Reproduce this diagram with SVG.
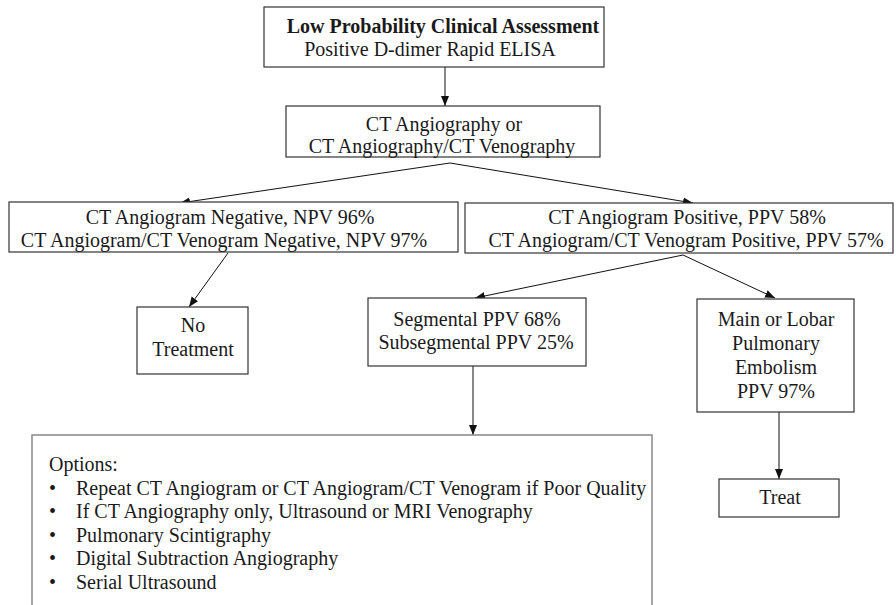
<svg xmlns="http://www.w3.org/2000/svg" width="896" height="605" viewBox="0 0 896 605">
<defs>
<marker id="ah" markerWidth="10" markerHeight="10" refX="10" refY="5" orient="auto" markerUnits="userSpaceOnUse">
<path d="M0,1 L10,5 L0,9 Z" fill="#111"/>
</marker>
<style>
.box{fill:#fff;stroke:#333;stroke-width:1.2}
.obox{fill:#fff;stroke:#888;stroke-width:1.5}
text{font-family:"Liberation Serif","Times New Roman",serif;font-size:20px;fill:#1a1a1a}
.c{text-anchor:middle}
.b{font-weight:bold}
.edge{stroke:#111;stroke-width:1;fill:none;marker-end:url(#ah)}
</style>
</defs>
<rect width="896" height="605" fill="#fff"/>
<g id="connectors">
<line class="edge" x1="445" y1="67" x2="445" y2="106"/>
<line class="edge" x1="450" y1="163" x2="180" y2="203"/>
<line class="edge" x1="450" y1="163" x2="693" y2="203"/>
<line class="edge" x1="228" y1="253" x2="189" y2="307"/>
<line class="edge" x1="683" y1="255" x2="475" y2="298"/>
<line class="edge" x1="683" y1="255" x2="775" y2="298"/>
<line class="edge" x1="473" y1="366" x2="473" y2="435"/>
<line class="edge" x1="779" y1="412" x2="779" y2="479"/>
</g>
<g id="n1">
<rect class="box" x="264" y="7" width="340" height="60"/>
<text class="c b" x="443" y="33">Low Probability Clinical Assessment</text>
<text class="c" x="430" y="56">Positive D-dimer Rapid ELISA</text>
</g>
<g id="n2">
<rect class="box" x="286" y="106" width="314" height="51"/>
<text class="c" x="444" y="131">CT Angiography or</text>
<text class="c" x="442" y="153">CT Angiography/CT Venography</text>
</g>
<g id="n3">
<rect class="box" x="9" y="202" width="449" height="50"/>
<text class="c" x="230" y="224">CT Angiogram Negative, NPV 96%</text>
<text class="c" x="224" y="247">CT Angiogram/CT Venogram Negative, NPV 97%</text>
</g>
<g id="n4">
<rect class="box" x="465" y="203" width="428" height="50"/>
<text class="c" x="687" y="224">CT Angiogram Positive, PPV 58%</text>
<text class="c" x="686" y="247">CT Angiogram/CT Venogram Positive, PPV 57%</text>
</g>
<g id="n5">
<rect class="box" x="137" y="307" width="111" height="67"/>
<text class="c" x="193" y="332">No</text>
<text class="c" x="193" y="356">Treatment</text>
</g>
<g id="n6">
<rect class="box" x="368" y="298" width="218" height="68"/>
<text class="c" x="477" y="326">Segmental PPV 68%</text>
<text class="c" x="476" y="349">Subsegmental PPV 25%</text>
</g>
<g id="n7">
<rect class="box" x="697" y="299" width="157" height="113"/>
<text class="c" x="776" y="326">Main or Lobar</text>
<text class="c" x="776" y="350">Pulmonary</text>
<text class="c" x="776" y="374">Embolism</text>
<text class="c" x="776" y="398">PPV 97%</text>
</g>
<g id="n8">
<rect class="box" x="719" y="479" width="120" height="38"/>
<text class="c" x="780" y="504">Treat</text>
</g>
<g id="n9">
<rect class="obox" x="32" y="435" width="620" height="200"/>
<text x="49" y="471">Options:</text>
<text x="49" y="495">•</text><text x="76" y="495">Repeat CT Angiogram or CT Angiogram/CT Venogram if Poor Quality</text>
<text x="49" y="518">•</text><text x="76" y="518">If CT Angiography only, Ultrasound or MRI Venography</text>
<text x="49" y="542">•</text><text x="76" y="542">Pulmonary Scintigraphy</text>
<text x="49" y="565">•</text><text x="76" y="565">Digital Subtraction Angiography</text>
<text x="49" y="589">•</text><text x="76" y="589">Serial Ultrasound</text>
</g>
</svg>
